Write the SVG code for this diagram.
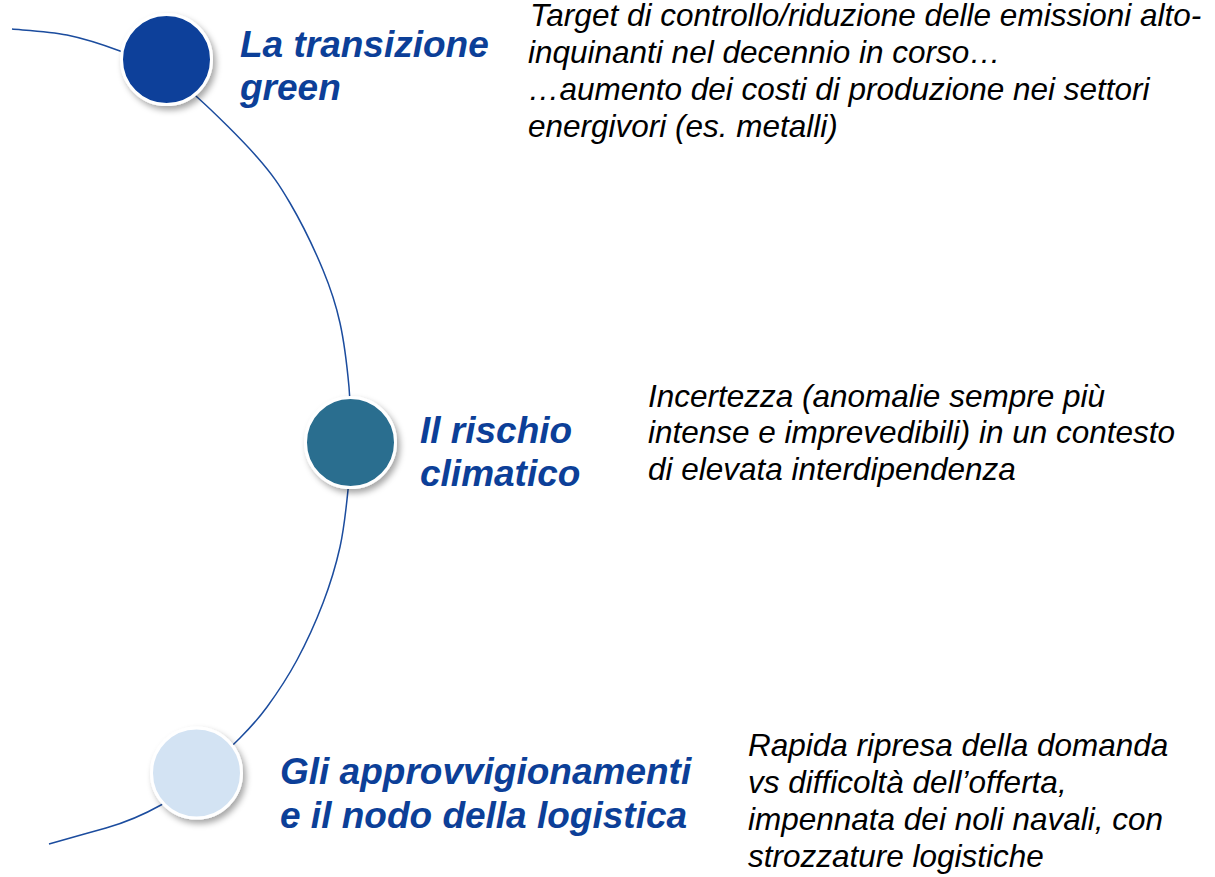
<svg xmlns="http://www.w3.org/2000/svg" width="1215" height="877" viewBox="0 0 1215 877">
<defs>
<filter id="sh" x="-30%" y="-30%" width="170%" height="170%">
<feDropShadow dx="3" dy="4" stdDeviation="3" flood-color="#000" flood-opacity="0.35"/>
</filter>
<style>
.arc{fill:none;stroke:#1B4C9E;stroke-width:1.5}
.dot{stroke:#fff;stroke-width:3;filter:url(#sh)}
.title{font-family:"Liberation Sans",Arial,sans-serif;font-weight:bold;font-style:italic;font-size:37px;fill:#0C3F98}
.desc{font-family:"Liberation Sans",Arial,sans-serif;font-style:italic;font-size:31.5px;fill:#000}
</style>
</defs>
<rect width="1215" height="877" fill="#fff"/>
<g id="connectors">
<path class="arc" d="M12,29 C21.2,30 49,31.3 67,35 C85,38.7 104.5,45.2 120,51 C135.5,56.8 147.2,62.3 160,70 C172.8,77.7 180.8,82.5 197,97 C213.2,111.5 241.5,139.3 257,157 C272.5,174.7 279,184.2 290,203 C301,221.8 314.7,250 323,270 C331.3,290 335.7,303.5 340,323 C344.3,342.5 347.2,367.5 349,387 C350.8,406.5 351.2,422.8 351,440 C350.8,457.2 349.8,472.2 348,490 C346.2,507.8 344.2,528.2 340,547 C335.8,565.8 330.2,584.2 323,603 C315.8,621.8 306.3,642.7 297,660 C287.7,677.3 276.5,694 267,707 C257.5,720 251.2,726.7 240,738 C228.8,749.3 213.2,763.8 200,775 C186.8,786.2 176.7,796.2 161,805 C145.3,813.8 124.7,822.7 106,828 C87.3,833.3 58.5,841.3 49,844"/>
</g>
<g id="node-green">
<circle class="dot" cx="166.5" cy="59.5" r="45" fill="#0C419A"/>
<text class="title" x="240" y="57">La transizione</text>
<text class="title" x="240" y="100">green</text>
<text class="desc" x="530" y="26" font-size="31">Target di controllo/riduzione delle emissioni alto-</text>
<text class="desc" x="528" y="63" font-size="31">inquinanti nel decennio in corso…</text>
<text class="desc" x="528" y="100" font-size="31">…aumento dei costi di produzione nei settori</text>
<text class="desc" x="528" y="137" font-size="31">energivori (es. metalli)</text>
</g>
<g id="node-clima">
<circle class="dot" cx="350.5" cy="442.5" r="45" fill="#2B6E8F"/>
<text class="title" x="420" y="443">Il rischio</text>
<text class="title" x="420" y="486">climatico</text>
<text class="desc" x="648" y="407">Incertezza (anomalie sempre più</text>
<text class="desc" x="648" y="443">intense e imprevedibili) in un contesto</text>
<text class="desc" x="648" y="480">di elevata interdipendenza</text>
</g>
<g id="node-logistica">
<circle class="dot" cx="196.5" cy="773" r="45" fill="#D3E3F3"/>
<text class="title" x="280" y="784">Gli approvvigionamenti</text>
<text class="title" x="280" y="828">e il nodo della logistica</text>
<text class="desc" x="748" y="756">Rapida ripresa della domanda</text>
<text class="desc" x="748" y="793">vs difficoltà dell’offerta,</text>
<text class="desc" x="748" y="830">impennata dei noli navali, con</text>
<text class="desc" x="748" y="867">strozzature logistiche</text>
</g>
</svg>
